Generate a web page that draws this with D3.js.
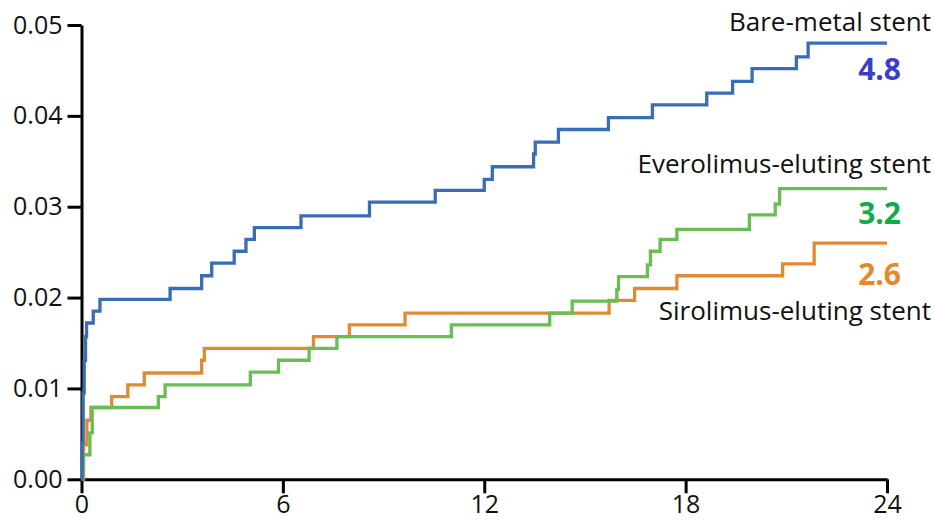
<!DOCTYPE html>
<html>
<head>
<meta charset="utf-8">
<script src="https://cdn.jsdelivr.net/npm/d3@7"></script>
<style>
  html, body { margin: 0; padding: 0; background: #ffffff; }
  svg { display: block; }
</style>
</head>
<body>
<svg id="chart" width="934" height="523"></svg>
<script>
// Months since procedure (x ticks) and cumulative incidence ticks (y)
const monthTicks = [0, 6, 12, 18, 24];
const riskTicks = [0, 0.01, 0.02, 0.03, 0.04, 0.05];

// Series names, in the order they are labelled
const seriesNames = ["Bare-metal stent", "Everolimus-eluting stent", "Sirolimus-eluting stent"];

// Bare-metal stent: event times (months) and cumulative incidence after each step
const bareMetalTime = [0, 0.02, 0.05, 0.08, 0.12, 0.15, 0.35, 0.55, 2.64, 3.58, 3.88, 4.55, 4.90, 5.15, 6.54, 8.58, 10.54, 12.00, 12.24, 13.47, 13.52, 14.21, 15.70, 17.01, 18.63, 19.40, 19.98, 21.30, 21.65, 24];
const bareMetalRisk = [0, 0.0040, 0.0095, 0.0131, 0.0157, 0.0172, 0.0185, 0.0198, 0.0210, 0.0224, 0.0238, 0.0251, 0.0264, 0.0277, 0.0290, 0.0305, 0.0318, 0.0330, 0.0344, 0.0358, 0.0371, 0.0385, 0.0398, 0.0412, 0.0425, 0.0438, 0.0452, 0.0465, 0.0480, 0.0480];

// Everolimus-eluting stent
const everolimusTime = [0, 0.03, 0.06, 0.25, 0.32, 2.29, 2.49, 5.03, 5.87, 6.78, 7.61, 11.02, 13.95, 14.62, 15.95, 16.00, 16.86, 16.95, 17.24, 17.74, 19.90, 20.67, 20.80, 24];
const everolimusRisk = [0, 0.0013, 0.0027, 0.0051, 0.0079, 0.0091, 0.0104, 0.0118, 0.0131, 0.0144, 0.0157, 0.0170, 0.0183, 0.0196, 0.0209, 0.0223, 0.0236, 0.0251, 0.0264, 0.0275, 0.0291, 0.0303, 0.0320, 0.0320];

// Sirolimus-eluting stent
const sirolimusTime = [0, 0.06, 0.16, 0.28, 0.90, 1.38, 1.87, 3.58, 3.66, 6.91, 7.98, 9.64, 15.72, 16.48, 17.74, 20.89, 21.83, 24];
const sirolimusRisk = [0, 0.0038, 0.0065, 0.0079, 0.0091, 0.0104, 0.0117, 0.0131, 0.0144, 0.0157, 0.0170, 0.0183, 0.0197, 0.0210, 0.0224, 0.0237, 0.0260, 0.0260];

const svg = d3.select("#chart");
const font = "'Open Sans', 'DejaVu Sans', sans-serif";

const x = d3.scaleLinear().domain([0, 24]).range([81.5, 887]);
const y = d3.scaleLinear().domain([0, 0.05]).range([479.3, 25]);

// Axes
const yAxis = d3.axisLeft(y)
  .tickValues(riskTicks)
  .tickFormat(d3.format(".2f"))
  .tickSize(14)
  .tickSizeOuter(0)
  .tickPadding(5);

const xAxis = d3.axisBottom(x)
  .tickValues(monthTicks)
  .tickFormat(d3.format("d"))
  .tickSize(14)
  .tickSizeOuter(0)
  .tickPadding(2);

function styleAxis(g) {
  g.selectAll("path.domain").attr("stroke", "#000").attr("stroke-width", 3);
  g.selectAll(".tick line").attr("stroke", "#000").attr("stroke-width", 3);
  g.selectAll(".tick text")
    .attr("fill", "#111")
    .style("font-family", font)
    .style("font-size", "25px");
}

const gx = svg.append("g").attr("transform", `translate(0,${y(0)})`).call(xAxis);
gx.call(styleAxis);

const gy = svg.append("g").attr("transform", `translate(${x(0)},0)`).call(yAxis);
gy.call(styleAxis);

// Step curves
const series = [
  { name: seriesNames[2], time: sirolimusTime, risk: sirolimusRisk, color: "#e08a34", labelColor: "#e8862a",
    nameY: 320, valueY: 285 },
  { name: seriesNames[1], time: everolimusTime, risk: everolimusRisk, color: "#68be54", labelColor: "#14aa4b",
    nameY: 173, valueY: 224 },
  { name: seriesNames[0], time: bareMetalTime, risk: bareMetalRisk, color: "#3a6eb4", labelColor: "#3a3fc8",
    nameY: 31, valueY: 80 }
];

const line = d3.line()
  .x(d => x(d[0]))
  .y(d => y(d[1]))
  .curve(d3.curveStepAfter);

svg.append("g")
  .selectAll("path")
  .data(series)
  .join("path")
  .attr("d", s => line(d3.zip(s.time, s.risk)))
  .attr("fill", "none")
  .attr("stroke", s => s.color)
  .attr("stroke-width", 3.3)
  .attr("stroke-linejoin", "miter")
  .attr("stroke-linecap", "butt");

// Series names and 24-month percentages
const labels = svg.append("g");
series.forEach(s => {
  labels.append("text")
    .attr("x", 931)
    .attr("y", s.nameY)
    .attr("text-anchor", "end")
    .attr("fill", "#111")
    .style("font-family", font)
    .style("font-size", "26px")
    .text(s.name);

  labels.append("text")
    .attr("x", 901)
    .attr("y", s.valueY)
    .attr("text-anchor", "end")
    .attr("fill", s.labelColor)
    .style("font-family", font)
    .style("font-size", "30px")
    .style("font-weight", "bold")
    .text(d3.format(".1f")(s.risk[s.risk.length - 1] * 100));
});
</script>
</body>
</html>
